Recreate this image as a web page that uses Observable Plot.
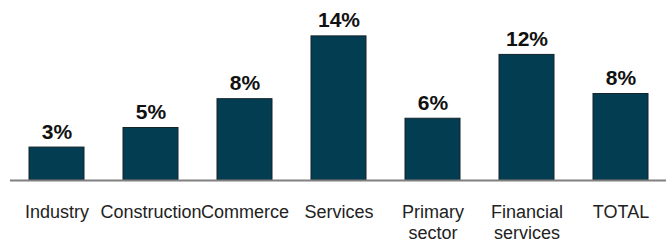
<!DOCTYPE html>
<html>
<head>
<meta charset="utf-8">
<script src="https://cdn.jsdelivr.net/npm/d3@7"></script>
<script src="https://cdn.jsdelivr.net/npm/@observablehq/plot@0.6"></script>
<style>
  html, body { margin: 0; padding: 0; background: #fff; }
  #chart svg { display: block; }
</style>
</head>
<body>
<div id="chart"></div>
<script>
const categories = ["Industry", "Construction", "Commerce", "Services", "Primary sector", "Financial services", "TOTAL"];
const tickLabels = ["Industry", "Construction", "Commerce", "Services", "Primary\nsector", "Financial\nservices", "TOTAL"];
const values = [3.2, 5.1, 7.9, 14.0, 6.0, 12.2, 8.4];
const valueLabels = ["3%", "5%", "8%", "14%", "6%", "12%", "8%"];

const data = categories.map((c, i) => ({category: c, value: values[i], label: valueLabels[i], tick: tickLabels[i]}));
const tickMap = new Map(categories.map((c, i) => [c, tickLabels[i]]));

const chart = Plot.plot({
  width: 666,
  height: 243,
  marginLeft: 10,
  marginRight: 0,
  marginTop: 5,
  marginBottom: 63,
  style: {fontFamily: "'Liberation Sans', Arial, sans-serif", background: "#fff"},
  x: {domain: categories, paddingInner: 0.416, paddingOuter: 0.19, label: null},
  y: {domain: [0, 17], axis: null},
  marks: [
    Plot.barY(data, {x: "category", y: "value", fill: "#033d52", stroke: "#14232b", strokeWidth: 1}),
    Plot.ruleY([0], {stroke: "#808080", strokeWidth: 2}),
    Plot.text(data, {x: "category", y: "value", text: "label", lineAnchor: "bottom", dy: -9, fontSize: 21, fontWeight: "bold", fill: "#111"}),
    Plot.axisX({tickSize: 0, tickPadding: 22, fontSize: 18, lineHeight: 1.2, tickFormat: d => tickMap.get(d), fill: "#222", label: null})
  ]
});
document.getElementById("chart").appendChild(chart);
</script>
</body>
</html>
